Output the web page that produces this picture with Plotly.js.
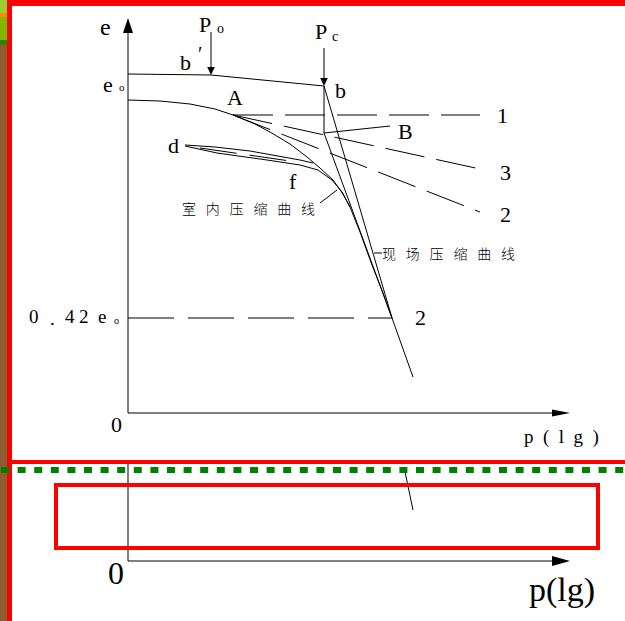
<!DOCTYPE html>
<html><head><meta charset="utf-8">
<script src="https://cdn.plot.ly/plotly-3.0.1.min.js"></script>
<style>html,body{margin:0;padding:0;background:#fff;overflow:hidden}#chart{width:625px;height:621px}</style>
</head><body><div id="chart"></div>
<script>
// ---- diagram values (x: lg p units, y: e units, origin at axes' origin) ----
const topLineX = [0, 83, 196];            // b' -> b (field, before Pc)
const topLineY = [339, 338, 327];
const labCurveX = [0, 32, 62, 87, 105, 127, 142, 162, 179, 192, 205, 215, 222, 232, 244, 255, 264];
const labCurveY = [313, 312, 309, 304, 298, 289, 281, 269, 256, 245, 233, 219, 206, 181, 148, 120, 95];
const fieldLineX = [196, 264, 285];       // b -> 0.42e0 -> end
const fieldLineY = [327, 95, 36];
const bLineX = [196, 264];                // from B down to 0.42e0
const bLineY = [280, 95];
const pcDropX = [196, 196];               // b -> B
const pcDropY = [327, 280];
const bPointerX = [196, 262];
const bPointerY = [280, 287];
const loopUpperX = [57, 87, 122, 152, 172, 185];
const loopUpperY = [268, 266, 262, 257, 253, 250];
const loopLowerX = [57, 89, 139, 172, 190, 204, 214, 222];
const loopLowerY = [267, 260, 253, 248, 243, 233, 221, 206];
const loopMidX = [72, 162];
const loopMidY = [265, 252];
const pointA = [105, 298];
const line1End = [352, 298];
const line3End = [352, 244];
const line2End = [352, 201];
const e042Y = 95;
const e042EndX = 264;
const labLeaderX = [192, 209];
const labLeaderY = [210, 223];
const fieldLeaderX = [246, 254];
const fieldLeaderY = [160, 160];
const fragX = [276, 285];
const fragY = [-54, -97];
const poX = 83, poTop = 381, poTip = 338;
const pcX = 196, pcTop = 365, pcTip = 327;
const eAxisTop = 395, pAxisEnd = 442;
const lowAxisY = -148, lowAxisTop = -49;

// ---- helpers ----
const W = 625, H = 621, OX = 128, OY = 413;
const ink = {color: '#000', width: 1};
function ln(x, y, dash, w) {
  return {x: x, y: y, type: 'scatter', mode: 'lines', hoverinfo: 'skip',
    line: {color: '#000', width: w || 1, dash: dash || 'solid'}, showlegend: false};
}
function head(tx, ty, dir, len, hw) {
  let p;
  if (dir === 'up') p = [[tx, ty], [tx - hw, ty - len], [tx + hw, ty - len]];
  else if (dir === 'down') p = [[tx, ty], [tx - hw, ty + len], [tx + hw, ty + len]];
  else p = [[tx, ty], [tx - len, ty + hw], [tx - len, ty - hw]];
  return {type: 'path', xref: 'x', yref: 'y', line: {width: 0},
    fillcolor: '#000', path: 'M' + p.map(q => q[0] + ',' + q[1]).join('L') + 'Z'};
}
function pxRect(x0, y0, x1, y1, fill) {
  return {type: 'rect', xref: 'paper', yref: 'paper', layer: 'above',
    x0: x0 / W, x1: x1 / W, y0: 1 - y1 / H, y1: 1 - y0 / H, line: {width: 0}, fillcolor: fill};
}
const serif = 'Liberation Serif, DejaVu Serif, serif';
const cjk = 'Noto Sans CJK SC, sans-serif';
function lab(text, px, py, size, fam, weight) {
  return {text: text, x: px - OX, y: OY - py, xref: 'x', yref: 'y', showarrow: false,
    xanchor: 'center', yanchor: 'middle',
    font: {family: fam || serif, size: size, color: '#000', weight: weight || 400}};
}

const traces = [
  ln([0, 0], [0, eAxisTop - 10]),
  ln([0, pAxisEnd - 10], [0, 0]),
  ln(topLineX, topLineY),
  ln([poX, poX], [poTop, poTip + 4]),
  ln([pcX, pcX], [pcTop, pcTip + 4]),
  ln(labCurveX, labCurveY),
  ln(fieldLineX, fieldLineY),
  ln(bLineX, bLineY),
  ln(pcDropX, pcDropY),
  ln(bPointerX, bPointerY),
  ln(loopUpperX, loopUpperY),
  ln(loopLowerX, loopLowerY),
  ln(loopMidX, loopMidY, '37px,13px'),
  ln([pointA[0], line1End[0]], [pointA[1], line1End[1]], '40px,12px'),
  ln([pointA[0], line3End[0]], [pointA[1], line3End[1]], '40px,12px'),
  ln([pointA[0], line2End[0]], [pointA[1], line2End[1]], '40px,12px'),
  ln([0, e042EndX], [e042Y, e042Y], '46px,14px'),
  ln(labLeaderX, labLeaderY),
  ln(fieldLeaderX, fieldLeaderY),
  ln(fragX, fragY),
  ln([0, 0], [lowAxisTop, lowAxisY]),
  ln([0, pAxisEnd - 10], [lowAxisY, lowAxisY])
];

const shapes = [
  head(0, eAxisTop, 'up', 15, 5),
  head(pAxisEnd, 0, 'right', 18, 3.5),
  head(poX, poTip, 'down', 8, 3.8),
  head(pcX, pcTip, 'down', 8, 3.8),
  head(pAxisEnd, lowAxisY, 'right', 18, 5),
  // screenshot frame decorations
  pxRect(0, 45, 7, 621, '#8a5d33'),
  pxRect(0, 0, 7, 13, '#9acd32'),
  pxRect(0, 13, 7, 17, '#ff8c00'),
  pxRect(0, 17, 7, 40, '#80b800'),
  pxRect(0, 40, 7, 45, '#2f7f00'),
  pxRect(7, 0, 625, 6, '#ff0000'),
  pxRect(7, 0, 12, 621, '#ff0000'),
  pxRect(12, 460, 625, 464, '#ff0000'),
  {type: 'line', xref: 'paper', yref: 'paper', layer: 'above', x0: 1 / W, x1: 1, y0: 1 - 470 / H, y1: 1 - 470 / H,
    line: {color: '#008000', width: 6, dash: '8px,8.6px'}},
  {type: 'rect', xref: 'paper', yref: 'paper', layer: 'above', x0: 56 / W, x1: 598 / W, y0: 1 - 548 / H, y1: 1 - 485 / H,
    line: {color: '#ff0000', width: 4}, fillcolor: 'rgba(0,0,0,0)'}
];

const sp = '\u2002\u2009';
const annotations = [
  lab('e', 105, 27, 24),
  lab('P', 205, 24, 22), lab('o', 220, 28, 14),
  lab('P', 321, 31, 22), lab('c', 335, 36, 14),
  lab('b', 185, 62, 22), lab('\u2032', 200, 54, 20),
  lab('e', 108, 84, 22), lab('o', 122, 87, 11),
  lab('A', 235, 97, 22),
  lab('b', 340, 90, 22),
  lab('d', 173, 145, 22),
  lab('f', 293, 181, 22),
  lab('B', 405, 131, 22),
  lab('1', 502, 115, 22),
  lab('3', 505, 172, 22),
  lab('2', 505, 214, 22),
  lab('2', 420, 317, 22),
  lab(['室','内','压','缩','曲','线'].join(sp), 248, 208, 14, cjk, 300),
  lab(['现','场','压','缩','曲','线'].join(sp), 448, 253, 14, cjk, 300),
  lab('0', 34, 316, 19), lab('.', 52, 318, 19), lab('4', 70, 316, 19), lab('2', 84, 316, 19),
  lab('e', 102, 316, 19), lab('o', 116, 320, 10),
  lab('0', 116, 424, 22),
  lab(['p','(','l','g',')'].join('\u2002'), 561, 437, 19),
  lab('0', 116, 573, 32),
  lab('p(lg)', 562, 590, 34)
];

Plotly.newPlot('chart', traces, {
  width: W, height: H, margin: {l: 0, r: 0, t: 0, b: 0},
  paper_bgcolor: '#fff', plot_bgcolor: '#fff', showlegend: false,
  xaxis: {range: [-OX, W - OX], visible: false, fixedrange: true},
  yaxis: {range: [OY - H, OY], visible: false, fixedrange: true},
  shapes: shapes, annotations: annotations
}, {staticPlot: true, displayModeBar: false});
</script>
</body></html>
